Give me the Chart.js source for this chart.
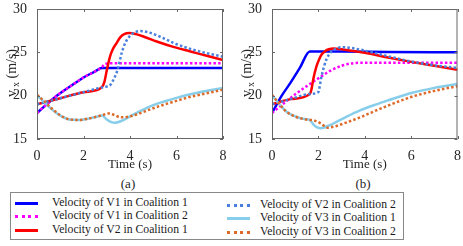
<!DOCTYPE html>
<html>
<head>
<meta charset="utf-8">
<script src="https://cdn.jsdelivr.net/npm/chart.js@4.4.1/dist/chart.umd.min.js"></script>
<style>
  body { margin: 0; background: #fff; width: 463px; height: 246px; overflow: hidden; font-family: "Liberation Serif", serif; }
  canvas { position: absolute; top: 0; }
  .ylab { position: absolute; width: 80px; height: 16px; line-height: 16px; text-align: center; font-size: 14px; color: #262626; white-space: nowrap; transform: rotate(-90deg); }
  .ylab sub { font-size: 10px; margin-left: 3px; vertical-align: -3px; line-height: 0; }
  .cap { position: absolute; width: 40px; height: 16px; line-height: 16px; text-align: center; font-size: 13px; color: #262626; }
  #legend { position: absolute; left: 10px; top: 192px; width: 394px; height: 48px; border: 1px solid #888; box-sizing: border-box; }
  .item { position: absolute; font-size: 11.7px; color: #1a1a1a; white-space: nowrap; line-height: 12px; }
  .item span { position: absolute; top: 5px; width: 23px; height: 0; }
  .solid { border-top: 3px solid; }
  .dot { border-top: 3px dotted; }
</style>
</head>
<body>
<canvas id="chartA" width="232" height="172" style="left:0px"></canvas>
<canvas id="chartB" width="228" height="172" style="left:235px"></canvas>
<div class="ylab" style="left:-28px; top:65px">v<sub>x</sub> (m/s)</div>
<div class="ylab" style="left:207px; top:65px">v<sub>x</sub> (m/s)</div>
<div class="cap" style="left:108px; top:176px">(a)</div>
<div class="cap" style="left:343px; top:176px">(b)</div>
<div id="legend"></div>
<script>
// series names, same for both panels
const seriesNames = [
    'Velocity of V1 in Coalition 1',
    'Velocity of V1 in Coalition 2',
    'Velocity of V2 in Coalition 1',
    'Velocity of V2 in Coalition 2',
    'Velocity of V3 in Coalition 1',
    'Velocity of V3 in Coalition 2'
];
const xTicks = [0, 2, 4, 6, 8];
const yTicks = [15, 20, 25, 30];

// panel (a)
const tA_v1c1 = [0, 0.5, 0.85, 1.5, 2.0, 2.5, 2.78, 3.5, 8];
const vA_v1c1 = [18.0, 19.2, 20.0, 21.2, 22.1, 22.8, 23.2, 23.2, 23.2];
const tA_v1c2 = [0, 0.5, 0.85, 1.5, 2.0, 2.5, 2.78, 2.92, 3.3, 8];
const vA_v1c2 = [18.0, 19.2, 20.0, 21.2, 22.1, 22.8, 23.25, 23.65, 23.75, 23.75];
const tA_v2c1 = [0, 1, 2, 2.78, 2.9, 3.0, 3.14, 3.25, 3.43, 3.57, 3.75, 3.98, 4.25, 4.6, 5.15, 5.9, 6.6, 7.3, 8];
const vA_v2c1 = [19.0, 19.7, 20.4, 20.95, 21.6, 22.9, 24.5, 25.3, 26.1, 26.7, 27.1, 27.22, 27.1, 26.8, 26.25, 25.6, 25.1, 24.6, 24.1];
const tA_v2c2 = [0, 1, 2, 2.78, 3.0, 3.14, 3.3, 3.43, 3.55, 3.64, 3.8, 4.0, 4.2, 4.45, 4.8, 5.3, 5.9, 6.6, 7.3, 8];
const vA_v2c2 = [19.0, 19.7, 20.4, 20.95, 21.05, 21.2, 21.9, 22.7, 23.9, 24.9, 26.1, 26.9, 27.3, 27.45, 27.3, 26.8, 26.05, 25.4, 24.9, 24.5];
const tA_v3c1 = [0, 0.3, 0.6, 1.0, 1.4, 1.8, 2.2, 2.6, 2.8, 3.0, 3.2, 3.35, 3.6, 4.0, 4.5, 5.0, 5.5, 6.0, 6.5, 7.0, 7.5, 8];
const vA_v3c1 = [20.0, 19.3, 18.5, 17.7, 17.25, 17.2, 17.35, 17.6, 17.7, 17.25, 16.95, 16.88, 17.05, 17.6, 18.3, 18.9, 19.35, 19.75, 20.1, 20.4, 20.65, 20.9];
const tA_v3c2 = [0, 0.3, 0.6, 1.0, 1.4, 1.8, 2.2, 2.6, 2.8, 3.1, 3.3, 3.6, 4.0, 4.5, 5.0, 5.5, 6.0, 6.5, 7.0, 7.5, 8];
const vA_v3c2 = [20.1, 19.4, 18.6, 17.75, 17.25, 17.2, 17.35, 17.6, 17.75, 17.95, 17.8, 17.5, 17.6, 18.05, 18.55, 19.0, 19.4, 19.8, 20.1, 20.4, 20.7];

// panel (b)
const tB_v1c1 = [0, 0.42, 0.8, 1.2, 1.63, 3, 5, 8];
const vB_v1c1 = [18.0, 20.0, 21.5, 23.2, 25.1, 25.1, 25.05, 25.0];
const tB_v1c2 = [0, 0.5, 1.0, 1.5, 2.0, 2.5, 3.0, 3.5, 4.0, 8];
const vB_v1c2 = [18.0, 19.1, 20.15, 21.1, 22.0, 22.85, 23.45, 23.75, 23.8, 23.8];
const tB_v2c1 = [0, 0.8, 1.63, 1.7, 1.78, 1.92, 2.05, 2.14, 2.3, 2.45, 2.65, 3.0, 3.5, 4.0, 5.0, 6.0, 7.0, 8];
const vB_v2c1 = [19.0, 19.6, 20.2, 20.7, 21.9, 23.4, 24.3, 24.75, 25.15, 25.35, 25.45, 25.35, 25.15, 24.95, 24.4, 23.9, 23.45, 23.0];
const tB_v2c2 = [0, 0.8, 1.63, 1.99, 2.14, 2.35, 2.57, 2.8, 3.0, 3.43, 4.0, 5.0, 6.0, 7.0, 8];
const vB_v2c2 = [19.0, 19.6, 20.2, 20.4, 22.3, 24.2, 25.1, 25.45, 25.6, 25.5, 25.2, 24.55, 23.95, 23.5, 23.2];
const tB_v3c1 = [0, 0.3, 0.6, 1.0, 1.3, 1.63, 1.78, 1.95, 2.1, 2.5, 2.8, 3.2, 3.8, 4.5, 5.0, 6.0, 7.0, 8];
const vB_v3c1 = [20.0, 19.1, 18.2, 17.6, 17.35, 17.2, 16.7, 16.35, 16.25, 16.6, 17.0, 17.55, 18.3, 19.0, 19.45, 20.3, 20.9, 21.35];
const tB_v3c2 = [0, 0.3, 0.6, 1.0, 1.3, 1.6, 1.8, 2.1, 2.4, 2.7, 3.1, 3.8, 4.5, 5.0, 6.0, 7.0, 8];
const vB_v3c2 = [20.1, 19.1, 18.2, 17.6, 17.35, 17.2, 17.15, 16.8, 16.3, 16.45, 16.8, 17.5, 18.3, 18.85, 19.85, 20.55, 21.1];

const colors = ['#0000ff', '#ff00ff', '#ff0000', '#4a80dc', '#87ceeb', '#dc6a28'];
const dotted = [false, true, false, true, false, true];

function pts(t, v) {
    return t.map((x, i) => ({ x: x, y: v[i] }));
}

// box around the plot and short inward ticks, like the original figure
const framePlugin = {
    id: 'frame',
    afterDatasetsDraw(chart) {
        const { ctx, chartArea: a, scales } = chart;
        ctx.save();
        ctx.strokeStyle = '#666';
        ctx.lineWidth = 1;
        ctx.strokeRect(a.left + 0.5, a.top + 0.5, a.right - a.left - 1, a.bottom - a.top - 1);
        ctx.beginPath();
        xTicks.forEach(v => {
            const px = Math.round(scales.x.getPixelForValue(v)) + 0.5;
            ctx.moveTo(px, a.bottom); ctx.lineTo(px, a.bottom - 3);
            ctx.moveTo(px, a.top); ctx.lineTo(px, a.top + 3);
        });
        yTicks.forEach(v => {
            const py = Math.round(scales.y.getPixelForValue(v)) + 0.5;
            ctx.moveTo(a.left, py); ctx.lineTo(a.left + 3, py);
            ctx.moveTo(a.right, py); ctx.lineTo(a.right - 3, py);
        });
        ctx.stroke();
        ctx.restore();
    }
};

function makeChart(id, series, rightPad) {
    const datasets = series.map((s, i) => ({
        label: seriesNames[i],
        data: pts(s[0], s[1]),
        borderColor: colors[i],
        borderWidth: 2.5,
        borderDash: dotted[i] ? [2.5, 2.2] : [],
        cubicInterpolationMode: 'monotone',
        pointRadius: 0,
        fill: false,
        order: 10 - i // later series drawn on top
    }));
    return new Chart(document.getElementById(id).getContext('2d'), {
        type: 'line',
        data: { datasets: datasets },
        plugins: [framePlugin],
        options: {
            responsive: false,
            animation: false,
            layout: { padding: { top: 7, right: rightPad, left: 0, bottom: 0 } },
            plugins: { legend: { display: false }, tooltip: { enabled: false } },
            scales: {
                x: {
                    type: 'linear', min: 0, max: 8,
                    afterBuildTicks: s => { s.ticks = xTicks.map(v => ({ value: v })); },
                    afterFit: s => { s.height = 33; },
                    grid: { display: false },
                    border: { display: false },
                    ticks: { color: '#262626', padding: 2, font: { family: 'Liberation Serif', size: 14, lineHeight: 1 } },
                    title: { display: true, text: 'Time (s)', color: '#262626', padding: 0, font: { family: 'Liberation Serif', size: 13 } }
                },
                y: {
                    min: 15, max: 30,
                    afterBuildTicks: s => { s.ticks = yTicks.map(v => ({ value: v })); },
                    afterFit: s => { s.width = 37; },
                    grid: { display: false },
                    border: { display: false },
                    ticks: { color: '#262626', padding: 2, font: { family: 'Liberation Serif', size: 14, lineHeight: 1 } }
                }
            }
        }
    });
}

makeChart('chartA', [
    [tA_v1c1, vA_v1c1], [tA_v1c2, vA_v1c2], [tA_v2c1, vA_v2c1],
    [tA_v2c2, vA_v2c2], [tA_v3c1, vA_v3c1], [tA_v3c2, vA_v3c2]
], 9);
makeChart('chartB', [
    [tB_v1c1, vB_v1c1], [tB_v1c2, vB_v1c2], [tB_v2c1, vB_v2c1],
    [tB_v2c2, vB_v2c2], [tB_v3c1, vB_v3c1], [tB_v3c2, vB_v3c2]
], 5);

// legend: two columns of three
const legend = document.getElementById('legend');
const legendPos = [[4, 4], [4, 17], [4, 31], [216, 6], [216, 19], [216, 33]];
seriesNames.forEach((name, i) => {
    const d = document.createElement('div');
    d.className = 'item';
    d.style.left = legendPos[i][0] + 'px';
    d.style.top = legendPos[i][1] + 'px';
    d.innerHTML = '<span class="' + (dotted[i] ? 'dot' : 'solid') + '" style="border-color:' + colors[i] + '"></span>' +
        '<b style="font-weight:normal; margin-left:' + (i < 3 ? 37 : 33) + 'px">' + name + '</b>';
    legend.appendChild(d);
});
</script>
</body>
</html>
